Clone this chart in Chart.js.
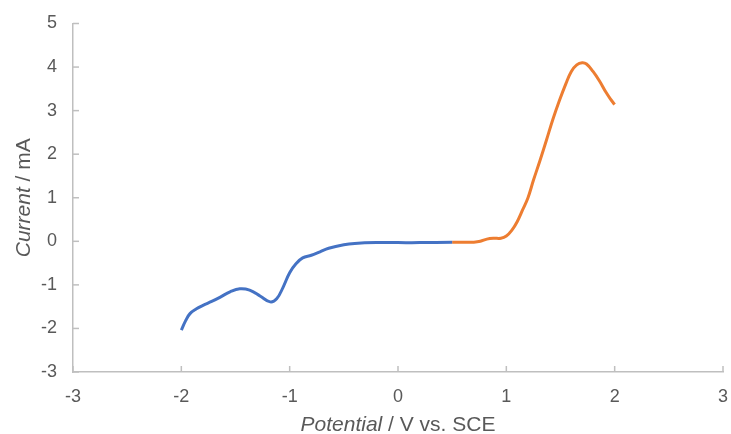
<!DOCTYPE html>
<html><head><meta charset="utf-8">
<script src="https://cdn.jsdelivr.net/npm/chart.js@4"></script>
<style>html,body{margin:0;padding:0;background:#fff}#wrap{width:731px;height:434px}</style>
</head><body><div id="wrap"><canvas id="c" width="731" height="434"></canvas></div>
<script>
const blueX = [-2.0,-1.96,-1.92,-1.86,-1.8,-1.72,-1.64,-1.55,-1.46,-1.37,-1.27,-1.18,-1.12,-1.06,-1.0,-0.94,-0.88,-0.8,-0.72,-0.64,-0.5,-0.4,-0.2,0,0.2,0.5];
const blueY = [-2.04,-1.82,-1.66,-1.55,-1.47,-1.38,-1.28,-1.16,-1.09,-1.12,-1.26,-1.39,-1.32,-1.05,-0.72,-0.51,-0.38,-0.32,-0.24,-0.16,-0.08,-0.05,-0.03,-0.03,-0.03,-0.02];
const orangeX = [0.5,0.6,0.7,0.76,0.82,0.88,0.95,1.0,1.05,1.1,1.15,1.2,1.25,1.31,1.37,1.43,1.49,1.55,1.6,1.65,1.7,1.74,1.8,1.86,1.92,1.96,2.0];
const orangeY = [-0.02,-0.02,-0.02,0.0,0.05,0.07,0.07,0.12,0.25,0.45,0.72,1.0,1.40,1.85,2.32,2.80,3.23,3.62,3.90,4.05,4.10,4.07,3.90,3.68,3.42,3.27,3.14];
const xTicks = [-3,-2,-1,0,1,2,3];
const yTicks = [-3,-2,-1,0,1,2,3,4,5];
const xTitleItalic = "Potential", xTitleRest = " / V vs. SCE";
const yTitleItalic = "Current", yTitleRest = " / mA";

const toPts = (xs, ys) => xs.map((x, i) => ({x, y: ys[i]}));
const FONT = "'Liberation Sans', Arial, sans-serif";
const AXIS = "#bfbfbf", TXT = "#595959";

const decor = {
  id: 'decor',
  afterDraw(chart) {
    const ctx = chart.ctx, xs = chart.scales.x, ys = chart.scales.y, ca = chart.chartArea;
    ctx.save();
    ctx.strokeStyle = AXIS; ctx.lineWidth = 1.5;
    xTicks.forEach(v => { const p = xs.getPixelForValue(v); ctx.beginPath(); ctx.moveTo(p, ca.bottom); ctx.lineTo(p, ca.bottom - 6); ctx.stroke(); });
    yTicks.forEach(v => { const p = ys.getPixelForValue(v); ctx.beginPath(); ctx.moveTo(ca.left, p); ctx.lineTo(ca.left + 6, p); ctx.stroke(); });
    ctx.fillStyle = TXT; ctx.textBaseline = 'middle';
    function mixed(it, rest, cx, cy) {
      ctx.font = "italic 21px " + FONT; const w1 = ctx.measureText(it).width;
      ctx.font = "21px " + FONT; const w2 = ctx.measureText(rest).width;
      const sx = cx - (w1 + w2) / 2;
      ctx.textAlign = 'left';
      ctx.font = "italic 21px " + FONT; ctx.fillText(it, sx, cy);
      ctx.font = "21px " + FONT; ctx.fillText(rest, sx + w1, cy);
    }
    mixed(xTitleItalic, xTitleRest, 398, 425);
    ctx.translate(24, (ca.top + ca.bottom) / 2); ctx.rotate(-Math.PI / 2);
    mixed(yTitleItalic, yTitleRest, 0, 0);
    ctx.restore();
  }
};

new Chart(document.getElementById('c'), {
  type: 'line',
  data: { datasets: [
    { data: toPts(blueX, blueY), borderColor: '#4472C4', borderWidth: 3, pointRadius: 0, tension: 0.4, fill: false },
    { data: toPts(orangeX, orangeY), borderColor: '#ED7D31', borderWidth: 3, pointRadius: 0, tension: 0.4, fill: false }
  ]},
  options: {
    responsive: false, animation: false, devicePixelRatio: 1,
    layout: { padding: { top: 23.5, right: 8, left: 0, bottom: 0 } },
    plugins: { legend: { display: false }, tooltip: { enabled: false } },
    scales: {
      x: { type: 'linear', min: -3, max: 3,
        afterBuildTicks: s => { s.ticks = xTicks.map(v => ({value: v})); },
        afterFit: s => { s.height = 62; s.paddingLeft = 0; s.paddingRight = 0; },
        grid: { display: true, drawOnChartArea: false, drawTicks: false },
        border: { color: AXIS, width: 1.5 },
        ticks: { color: TXT, font: { size: 18, family: FONT }, padding: 14, maxRotation: 0 } },
      y: { type: 'linear', min: -3, max: 5,
        afterBuildTicks: s => { s.ticks = yTicks.map(v => ({value: v})); },
        afterFit: s => { s.width = 73; s.paddingTop = 0; s.paddingBottom = 0; },
        grid: { display: true, drawOnChartArea: false, drawTicks: false },
        border: { color: AXIS, width: 1.5 },
        ticks: { color: TXT, font: { size: 18, family: FONT }, padding: 16 } }
    }
  },
  plugins: [decor]
});
</script></body></html>
